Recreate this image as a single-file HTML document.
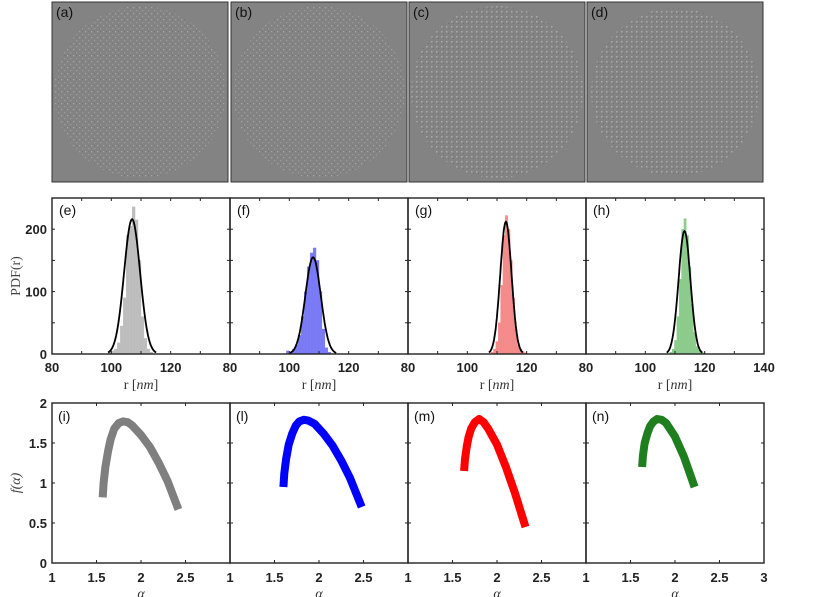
<!DOCTYPE html>
<html><head><meta charset="utf-8"><style>
html,body{margin:0;padding:0;background:#fff;}
svg{display:block;font-family:"Liberation Sans",sans-serif;}
</style></head><body>
<svg id="fig" width="830" height="597" viewBox="0 0 830 597" xmlns="http://www.w3.org/2000/svg">
<defs>
<pattern id="dots" width="6" height="6" patternUnits="userSpaceOnUse">
<rect x="1" y="1" width="1.3" height="1.3" fill="#b8b8b8"/><rect x="4" y="4" width="1.3" height="1.3" fill="#a8a8a8"/><rect x="4" y="1" width="1" height="1" fill="#6c6c6c"/>
</pattern>
<pattern id="dots2" width="5" height="5" patternUnits="userSpaceOnUse">
<rect x="1" y="1" width="1.5" height="1.5" fill="#c4c4c4"/><rect x="3" y="3" width="1" height="1" fill="#666"/>
</pattern>
</defs>
<g id="images"></g>
<g id="hists"></g>
<g id="spectra"></g>
</svg>
<script>
// ---- histogram data ----
const histBinStart = [99, 99, 108, 108.2];
const histE = [3,5,8,18,45,90,190,205,236,215,150,60,25,8,3];
const histF = [5,3,8,15,30,60,100,140,162,170,150,100,40,10,3];
const histG = [3,8,20,50,110,190,222,200,150,90,40,15,8,4,2];
const histH = [3,8,22,60,120,200,217,190,140,80,35,12,6,3,2];
const fitMean = [107, 108, 113, 113.2];
const fitPeak = [216, 155, 212, 197];
const fitSigma = [2.7, 2.6, 1.9, 2.0];
const histLabels = ['(e)','(f)','(g)','(h)'];
const histColors = ['#bdbdbd','#7a7af5','#f48a8a','#8ccb8c'];
const rTicks = [80,100,120];
const pdfTicks = [0,100,200];
// ---- f(alpha) data ----
const alphaI = [1.57,1.58,1.6,1.63,1.66,1.7,1.75,1.8,1.85,1.9,2.0,2.1,2.2,2.3,2.42];
const fI    = [0.82,1.0,1.2,1.4,1.55,1.68,1.75,1.77,1.76,1.72,1.6,1.45,1.25,1.02,0.67];
const alphaL = [1.6,1.61,1.63,1.66,1.7,1.74,1.78,1.83,1.88,1.95,2.05,2.15,2.25,2.35,2.48];
const fL    = [0.95,1.12,1.3,1.48,1.62,1.72,1.77,1.79,1.78,1.74,1.62,1.47,1.28,1.06,0.7];
const alphaM = [1.63,1.64,1.66,1.68,1.71,1.75,1.8,1.85,1.9,2.0,2.1,2.2,2.32];
const fM    = [1.15,1.3,1.45,1.57,1.68,1.76,1.8,1.76,1.68,1.48,1.2,0.88,0.45];
const alphaN = [1.63,1.64,1.66,1.69,1.72,1.76,1.8,1.85,1.9,2.0,2.1,2.22];
const fN    = [1.2,1.35,1.5,1.62,1.71,1.77,1.8,1.79,1.75,1.58,1.33,0.95];
const specLabels = ['(i)','(l)','(m)','(n)'];
const specColors = ['#7f7f7f','#0000ff','#ff0000','#1f7f1f'];
const alphaTicks = [1,1.5,2,2.5];
const fTicks = [0,0.5,1,1.5,2];

const NS='http://www.w3.org/2000/svg';
function mk(tag,attrs,parent,text){const e=document.createElementNS(NS,tag);for(const k in attrs)e.setAttribute(k,attrs[k]);if(text!==undefined)e.textContent=text;parent.appendChild(e);return e;}
const X0=52, PW=178;

// ---- top images ----
const imgG=document.getElementById('images');
const imgLabels=['(a)','(b)','(c)','(d)'];
for(let i=0;i<4;i++){
  const x=X0+i*178+(i?1:0), w=176;
  const g=mk('g',{},imgG);
  
  
  mk('rect',{x:x,y:2,width:w,height:180,fill:'#838383',stroke:'#333','stroke-width':1},g);
  const c=mk('circle',{cx:x+w/2,cy:92,r:i==3?84:86,fill:i>=2?'url(#dots2)':'url(#dots)',opacity:0.6},g);
  
  
  const t=mk('text',{x:x+4,y:17,'font-size':14,fill:'#111'},g,imgLabels[i]);
  
  
}

// ---- histograms ----
const HY0=354, HY1=198, hmax=250;
const hy=v=>HY0-(v/hmax)*(HY0-HY1);
const hists=[histE,histF,histG,histH];
const hG=document.getElementById('hists');
for(let i=0;i<4;i++){
  const left=X0+i*PW;
  const hx=r=>left+(r-80)/60*PW;
  const g=mk('g',{},hG);
  
  
  const bw=(i<2?1:0.8);
  hists[i].forEach((v,k)=>{
    const b=mk('rect',{x:hx(histBinStart[i]+k*bw),y:hy(v),width:PW/60*bw,height:HY0-hy(v),fill:histColors[i],stroke:histColors[i],'stroke-width':0.3},g);
    
    
  });
  let d='';
  for(let s=-3;s<=3.001;s+=0.1){const r=fitMean[i]+s*fitSigma[i];const v=fitPeak[i]*Math.exp(-s*s/2);d+=(d?'L':'M')+hx(r).toFixed(1)+','+hy(v).toFixed(1);}
  const p=mk('path',{d:d,fill:'none',stroke:'#000','stroke-width':1.8},g);
  
  
  mk('rect',{x:left,y:HY1,width:PW,height:HY0-HY1,fill:'none',stroke:'#222','stroke-width':1.4},g);
  [80,90,100,110,120,130,140].forEach(r=>{mk('line',{x1:hx(r),x2:hx(r),y1:HY0,y2:HY0-3,stroke:'#222'},g);mk('line',{x1:hx(r),x2:hx(r),y1:HY1,y2:HY1+3,stroke:'#222'},g);});
  [0,50,100,150,200].forEach(v=>{mk('line',{x1:left,x2:left+3,y1:hy(v),y2:hy(v),stroke:'#222'},g);mk('line',{x1:left+PW,x2:left+PW-3,y1:hy(v),y2:hy(v),stroke:'#222'},g);});
  const tl=rTicks.concat(i==3?[140]:[]);
  tl.forEach(r=>{const t=mk('text',{x:hx(r),y:372,'font-size':13,'font-weight':'bold','text-anchor':'middle',fill:'#222'},g,r);});
  const lab=mk('text',{x:left+7,y:215,'font-size':14,fill:'#111'},g,histLabels[i]);
  
  
  const xt=mk('text',{x:left+89,y:389,'font-size':14,'text-anchor':'middle','font-family':'Liberation Serif,serif',fill:'#333'},g);
  
  
  xt.innerHTML='r [<tspan font-style="italic">nm</tspan>]';
}
pdfTicks.forEach(v=>{const t=mk('text',{x:47,y:hy(v)+5,'font-size':13,'font-weight':'bold','text-anchor':'end',fill:'#222'},hG,v);});
const yt=mk('text',{x:0,y:0,'font-size':14,'text-anchor':'middle','font-family':'Liberation Serif,serif',fill:'#444',transform:'translate(20,276) rotate(-90)'},hG,'PDF(r)');



// ---- f(alpha) spectra ----
const SY0=563, SY1=403;
const sy=v=>SY0-(v/2)*(SY0-SY1);
const sG=document.getElementById('spectra');
const specA=[alphaI,alphaL,alphaM,alphaN], specF=[fI,fL,fM,fN];
for(let i=0;i<4;i++){
  const left=X0+i*PW;
  const sx=a=>left+(a-1)/2*PW;
  const g=mk('g',{},sG);
  
  
  const d=specA[i].map((a,k)=>(k?'L':'M')+sx(a).toFixed(1)+','+sy(specF[i][k]).toFixed(1)).join('');
  const p=mk('path',{d:d,fill:'none',stroke:specColors[i],'stroke-width':8,'stroke-linejoin':'round','stroke-linecap':'butt'},g);
  
  
  mk('rect',{x:left,y:SY1,width:PW,height:SY0-SY1,fill:'none',stroke:'#222','stroke-width':1.4},g);
  [1,1.5,2,2.5,3].forEach(a=>{mk('line',{x1:sx(a),x2:sx(a),y1:SY0,y2:SY0-3,stroke:'#222'},g);mk('line',{x1:sx(a),x2:sx(a),y1:SY1,y2:SY1+3,stroke:'#222'},g);});
  fTicks.forEach(v=>{mk('line',{x1:left,x2:left+3,y1:sy(v),y2:sy(v),stroke:'#222'},g);mk('line',{x1:left+PW,x2:left+PW-3,y1:sy(v),y2:sy(v),stroke:'#222'},g);});
  const tl=alphaTicks.concat(i==3?[3]:[]);
  tl.forEach(a=>{const t=mk('text',{x:sx(a),y:582,'font-size':13,'font-weight':'bold','text-anchor':'middle',fill:'#222'},g,a);});
  const lab=mk('text',{x:left+6,y:421,'font-size':14,fill:'#111'},g,specLabels[i]);
  
  
  const xt=mk('text',{x:left+89,y:598,'font-size':14,'text-anchor':'middle','font-family':'Liberation Serif,serif','font-style':'italic',fill:'#333'},g,'α');
  
  
}
fTicks.forEach(v=>{const t=mk('text',{x:47,y:sy(v)+5,'font-size':13,'font-weight':'bold','text-anchor':'end',fill:'#222'},sG,v);});
const yt2=mk('text',{x:0,y:0,'font-size':14,'text-anchor':'middle','font-family':'Liberation Serif,serif','font-style':'italic',fill:'#444',transform:'translate(20,483) rotate(-90)'},sG,'f(α)');


</script>
</body></html>
